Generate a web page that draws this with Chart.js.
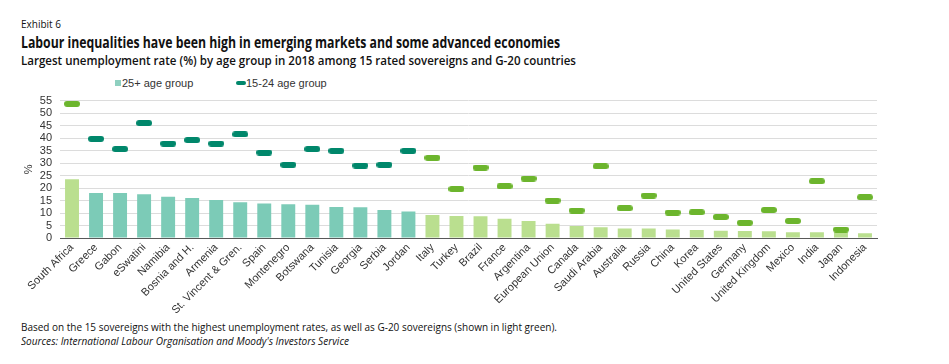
<!DOCTYPE html>
<html>
<head>
<meta charset="utf-8">
<script src="https://cdn.jsdelivr.net/npm/chart.js@4.4.1/dist/chart.umd.min.js"></script>
<style>
  html, body { margin: 0; padding: 0; background: #fff; }
  body { width: 949px; height: 364px; position: relative; overflow: hidden; font-family: "Open Sans", sans-serif; color: #111; }
  .txt { position: absolute; left: 21px; white-space: nowrap; line-height: 16px; transform-origin: 0 50%; }
  #exhibit { top: 16px; font-size: 11px; }
  #title { top: 34px; font-size: 15.5px; font-weight: 700; }
  #subtitle { top: 52px; font-size: 13px; font-weight: 600; }
  #note { top: 319px; font-size: 11px; }
  #source { top: 333px; font-size: 11px; font-style: italic; }
  #legend { position: absolute; top: 76px; left: 0; width: 400px; height: 14px; font-family: "Liberation Sans", Arial, sans-serif; font-size: 11px; color: #333; }
  #legend span { position: absolute; top: 0; line-height: 14px; }
  #legend i { position: absolute; display: block; }
  #chartBox { position: absolute; left: 0; top: 86px; width: 949px; height: 228px; }
</style>
</head>
<body>
<div class="txt" id="exhibit" data-w="40">Exhibit 6</div>
<div class="txt" id="title" data-w="539">Labour inequalities have been high in emerging markets and some advanced economies</div>
<div class="txt" id="subtitle" data-w="555">Largest unemployment rate (%) by age group in 2018 among 15 rated sovereigns and G-20 countries</div>

<div id="legend">
  <i style="left:115px; top:4px; width:6px; height:6px; background:#8fd0c0;"></i>
  <span style="left:122px;">25+ age group</span>
  <i style="left:236px; top:5px; width:10px; height:4px; border-radius:2px; background:#00876b;"></i>
  <span style="left:246px;">15-24 age group</span>
</div>

<div id="chartBox"><canvas id="chart"></canvas></div>

<div class="txt" id="note" data-w="536">Based on the 15 sovereigns with the highest unemployment rates, as well as G-20 sovereigns (shown in light green).</div>
<div class="txt" id="source" data-w="328">Sources: International Labour Organisation and Moody's Investors Service</div>

<script>
const countries = ['South Africa', 'Greece', 'Gabon', 'eSwatini', 'Namibia', 'Bosnia and H.', 'Armenia',
  'St. Vincent & Gren.', 'Spain', 'Montenegro', 'Botswana', 'Tunisia', 'Georgia', 'Serbia', 'Jordan',
  'Italy', 'Turkey', 'Brazil', 'France', 'Argentina', 'European Union', 'Canada', 'Saudi Arabia',
  'Australia', 'Russia', 'China', 'Korea', 'United States', 'Germany', 'United Kingdom', 'Mexico',
  'India', 'Japan', 'Indonesia'];

// 25+ age group (bars)
const adultRate = [23.5, 18.0, 18.0, 17.5, 16.5, 16.0, 15.2, 14.3, 13.8, 13.5, 13.3, 12.4, 12.3, 11.2, 10.6,
  9.2, 8.8, 8.7, 7.7, 6.8, 5.7, 4.8, 4.3, 3.8, 3.8, 3.4, 3.2, 2.9, 2.8, 2.7, 2.3, 2.3, 2.2, 1.9];

// 15-24 age group (markers)
const youthRate = [53.7, 39.7, 35.6, 46.0, 37.8, 39.2, 37.8, 41.5, 34.2, 29.3, 35.6, 34.9, 29.0, 29.3, 34.9,
  32.1, 19.6, 28.2, 20.7, 23.8, 15.0, 11.0, 28.7, 11.9, 17.0, 10.2, 10.3, 8.4, 6.1, 11.2, 6.8, 22.7, 3.4, 16.3];

// G-20 sovereigns are shown in light green
const g20 = ['South Africa', 'Italy', 'Turkey', 'Brazil', 'France', 'Argentina', 'European Union', 'Canada',
  'Saudi Arabia', 'Australia', 'Russia', 'China', 'Korea', 'United States', 'Germany', 'United Kingdom',
  'Mexico', 'India', 'Japan', 'Indonesia'];

const yTicks = [0, 5, 10, 15, 20, 25, 30, 35, 40, 45, 50, 55];

const colors = {
  barTeal: '#7ccbb7',
  barGreen: '#badf8f',
  markTeal: '#00876b',
  markGreen: '#6cb52d'
};

function markerImg(color) {
  const c = document.createElement('canvas');
  c.width = 16;
  c.height = 6;
  const g = c.getContext('2d');
  g.fillStyle = color;
  g.beginPath();
  if (g.roundRect) g.roundRect(0, 0, 16, 6, 3);
  else g.rect(0, 0, 16, 6);
  g.fill();
  return c;
}

function fitText() {
  document.querySelectorAll('.txt[data-w]').forEach(el => {
    el.style.transform = 'none';
    const w = el.getBoundingClientRect().width;
    const target = parseFloat(el.dataset.w);
    if (w > 0) el.style.transform = 'scaleX(' + (target / w).toFixed(4) + ')';
  });
}

function drawChart() {
  const isG20 = countries.map(c => g20.includes(c));
  const tealMark = markerImg(colors.markTeal);
  const greenMark = markerImg(colors.markGreen);

  new Chart(document.getElementById('chart'), {
    data: {
      labels: countries,
      datasets: [
        {
          type: 'line',
          label: '15-24 age group',
          data: youthRate,
          showLine: false,
          pointStyle: isG20.map(g => g ? greenMark : tealMark),
          pointRadius: 8,
          order: 0
        },
        {
          type: 'bar',
          label: '25+ age group',
          data: adultRate,
          backgroundColor: isG20.map(g => g ? colors.barGreen : colors.barTeal),
          categoryPercentage: 1,
          barPercentage: 0.58,
          order: 1
        }
      ]
    },
    options: {
      responsive: true,
      maintainAspectRatio: false,
      animation: false,
      layout: { padding: { top: 8, right: 72, left: 0, bottom: 0 } },
      plugins: {
        legend: { display: false },
        tooltip: { enabled: false }
      },
      scales: {
        x: {
          offset: true,
          grid: { display: false, drawTicks: false },
          border: { display: true, color: '#595959', width: 1 },
          ticks: {
            autoSkip: false,
            minRotation: 45,
            maxRotation: 45,
            padding: 3,
            color: '#333',
            font: { family: '"Liberation Sans", Arial, sans-serif', size: 11 }
          },
          afterFit: s => { s.height = 76; }
        },
        y: {
          min: 0,
          max: 55,
          afterBuildTicks: s => { s.ticks = yTicks.map(v => ({ value: v })); },
          grid: { color: '#dcdcdc', lineWidth: 1, drawTicks: false },
          border: { display: false },
          ticks: {
            autoSkip: false,
            padding: 8,
            color: '#333',
            font: { family: '"Liberation Sans", Arial, sans-serif', size: 11 }
          },
          title: {
            display: true,
            text: '%',
            color: '#333',
            padding: { top: 22, bottom: 0 },
            font: { family: '"Liberation Sans", Arial, sans-serif', size: 11 }
          },
          afterFit: s => { s.width = 60; }
        }
      }
    }
  });
}

document.addEventListener('DOMContentLoaded', () => {
  drawChart();
  fitText();
  if (document.fonts && document.fonts.ready) document.fonts.ready.then(fitText);
});
</script>
</body>
</html>
